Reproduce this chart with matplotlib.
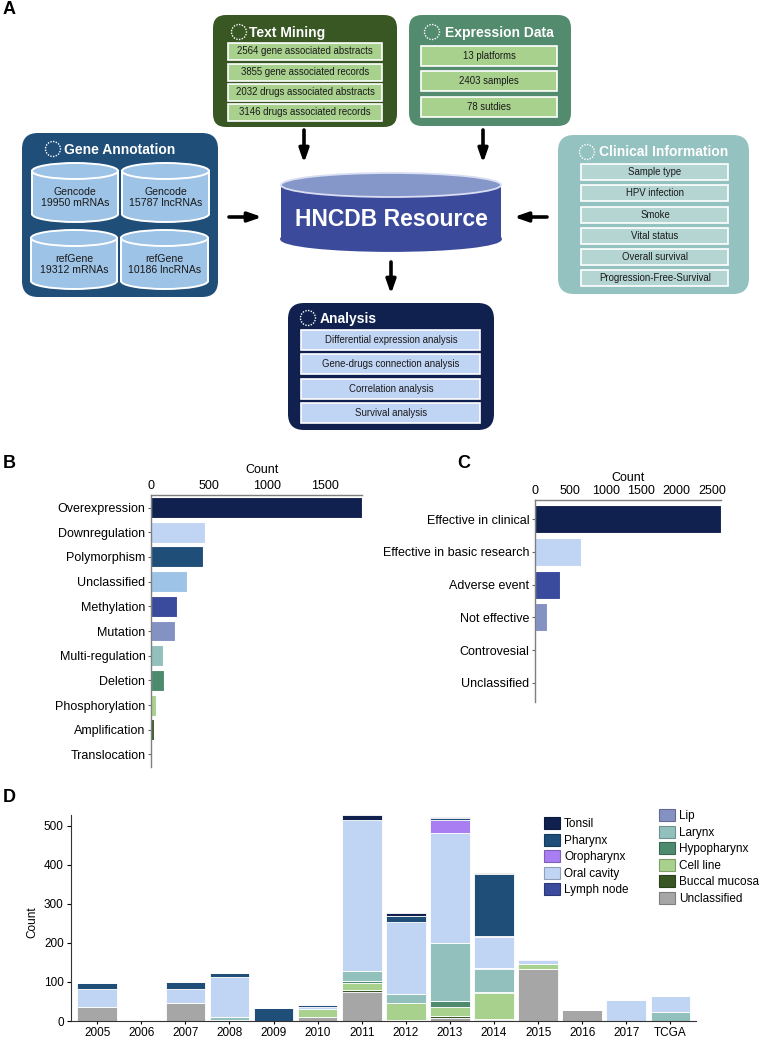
import numpy as np
import matplotlib
matplotlib.use("Agg")
import matplotlib.pyplot as plt
from matplotlib import font_manager
from matplotlib.patches import FancyBboxPatch, Rectangle, Ellipse, Circle, Patch

plt.rcParams['font.family'] = ['Liberation Sans', 'DejaVu Sans']

###############################################################################
# data
###############################################################################
text_mining_rows = ["2564 gene associated abstracts", "3855 gene associated records",
                    "2032 drugs associated abstracts", "3146 drugs associated records"]
expression_rows = ["13 platforms", "2403 samples", "78 sutdies"]
annotation_cylinders = ["Gencode\n19950 mRNAs", "Gencode\n15787 lncRNAs",
                        "refGene\n19312 mRNAs", "refGene\n10186 lncRNAs"]
clinical_rows = ["Sample type", "HPV infection", "Smoke", "Vital status",
                 "Overall survival", "Progression-Free-Survival"]
analysis_rows = ["Differential expression analysis", "Gene-drugs connection analysis",
                 "Correlation analysis", "Survival analysis"]

mechanism_labels = ["Overexpression", "Downregulation", "Polymorphism", "Unclassified",
                    "Methylation", "Mutation", "Multi-regulation", "Deletion",
                    "Phosphorylation", "Amplification", "Translocation"]
mechanism_counts = [1820, 466, 451, 307, 222, 205, 106, 108, 43, 26, 12]

drug_labels = ["Effective in clinical", "Effective in basic research", "Adverse event",
               "Not effective", "Controvesial", "Unclassified"]
drug_counts = [2630, 650, 353, 165, 20, 5]

years = ["2005", "2006", "2007", "2008", "2009", "2010", "2011", "2012", "2013",
         "2014", "2015", "2016", "2017", "TCGA"]
unclassified = [36, 0, 47, 0, 0, 10, 73, 0, 8, 3, 133, 28, 0, 0]
buccal_mucosa = [0, 0, 0, 0, 0, 0, 6, 2, 4, 3, 0, 0, 0, 0]
cell_line = [0, 2, 0, 3, 0, 20, 19, 43, 24, 66, 13, 0, 0, 0]
hypopharynx = [0, 0, 0, 0, 0, 0, 5, 0, 14, 2, 0, 0, 0, 0]
larynx = [0, 0, 0, 6, 0, 0, 25, 23, 150, 60, 0, 0, 1, 22]
lip = [0, 0, 0, 0, 0, 0, 0, 0, 0, 2, 0, 0, 0, 0]
lymph_node = [0, 0, 0, 0, 0, 0, 0, 0, 0, 0, 0, 0, 0, 0]
oral_cavity = [46, 0, 34, 104, 0, 7, 386, 186, 282, 79, 10, 0, 52, 43]
oropharynx = [0, 0, 0, 0, 0, 0, 0, 0, 32, 2, 2, 0, 0, 0]
pharynx = [14, 0, 20, 9, 32, 4, 0, 15, 6, 158, 0, 0, 2, 0]
tonsil = [0, 0, 0, 0, 0, 0, 13, 8, 3, 4, 0, 0, 0, 0]

###############################################################################
# colours
###############################################################################
NAVY = "#10214f"
PALE = "#c0d4f4"
STEEL = "#1f4e79"
SKY = "#9dc3e6"
INDIGO = "#3a4a9c"
LAVENDER = "#8491c3"
TEAL = "#92c0bd"
SEA = "#4e8a6e"
LIME = "#a9d18e"
FOREST = "#375623"
GREY = "#a6a6a6"
PURPLE = "#a87ef2"

mechanism_colors = [NAVY, PALE, STEEL, SKY, INDIGO, LAVENDER, TEAL, SEA, LIME,
                    FOREST, LIME]
drug_colors = [NAVY, PALE, INDIGO, LAVENDER, LIME, FOREST]

# bottom to top
sites = [("Unclassified", unclassified, GREY),
         ("Buccal mucosa", buccal_mucosa, FOREST),
         ("Cell line", cell_line, LIME),
         ("Hypopharynx", hypopharynx, SEA),
         ("Larynx", larynx, TEAL),
         ("Lip", lip, LAVENDER),
         ("Lymph node", lymph_node, INDIGO),
         ("Oral cavity", oral_cavity, PALE),
         ("Oropharynx", oropharynx, PURPLE),
         ("Pharynx", pharynx, STEEL),
         ("Tonsil", tonsil, NAVY)]

W, H = 765, 1039
FS = 9
FS_D = 8.5

# the diagram uses a narrow face when one is installed
installed = {f.name for f in font_manager.fontManager.ttflist}
if "Liberation Sans Narrow" in installed:
    DIAGRAM_FONT = ["Liberation Sans Narrow", "DejaVu Sans"]
    SCALE = 1.2
else:
    DIAGRAM_FONT = ["Liberation Sans", "DejaVu Sans"]
    SCALE = 1.0


def darker(color, f=0.75):
    c = np.array(matplotlib.colors.to_rgb(color))
    return tuple(c * f)


###############################################################################
# panel A helpers (pixel coordinates)
###############################################################################
def rounded_box(ax, x0, y0, x1, y1, color, r=13):
    ax.add_patch(FancyBboxPatch((x0, y0), x1 - x0, y1 - y0,
                                boxstyle="round,pad=0,rounding_size=%d" % r,
                                fc=color, ec=color, lw=0))


def box_title(ax, xc, xt, y, text):
    ax.add_patch(Circle((xc, y), 7.5, fill=False, ec="white", lw=1,
                        ls=(0, (1, 1))))
    ax.text(xt, y + 0.5, text, ha="left", va="center", color="white",
            fontsize=10 * SCALE, weight="bold", family=DIAGRAM_FONT)


def row_box(ax, xc, yc, w, h, color, text):
    ax.add_patch(Rectangle((xc - w / 2, yc - h / 2), w, h, fc=color,
                           ec="white", lw=1.2))
    ax.text(xc, yc, text, ha="center", va="center", fontsize=6.9 * SCALE,
            color="#1a1a1a", family=DIAGRAM_FONT)


def cylinder(ax, x0, x1, ytop, ybot, eh, body, top, edge, lw, side=True):
    w = x1 - x0
    xc = (x0 + x1) / 2.
    yt = ytop + eh / 2.
    yb = ybot - eh / 2.
    ax.add_patch(Ellipse((xc, yb), w, eh, fc=body,
                         ec=edge if side else body, lw=lw))
    ax.add_patch(Rectangle((x0, yt), w, yb - yt, fc=body, ec="none"))
    if side:
        ax.plot([x0, x0], [yt, yb], color=edge, lw=lw)
        ax.plot([x1, x1], [yt, yb], color=edge, lw=lw)
    ax.add_patch(Ellipse((xc, yt), w, eh, fc=top, ec=edge, lw=lw))


def arrow(ax, start, end):
    ax.annotate("", xy=end, xytext=start,
                arrowprops=dict(arrowstyle="-|>,head_length=0.8,head_width=0.28",
                                color="black", lw=2.6, shrinkA=0, shrinkB=0))


def draw_panel_a(ax):
    # text mining
    rounded_box(ax, 213, 15, 397, 127, "#385723")
    box_title(ax, 239, 249, 32, "Text Mining")
    for yc, s in zip([51, 72, 92, 112], text_mining_rows):
        row_box(ax, 305, yc, 154, 17, LIME, s)

    # expression data
    rounded_box(ax, 409, 15, 571, 126, "#538b6e")
    box_title(ax, 432, 445, 32, "Expression Data")
    for yc, s in zip([56, 81, 107], expression_rows):
        row_box(ax, 489, yc, 136, 20, LIME, s)

    # gene annotation
    rounded_box(ax, 22, 133, 218, 297, STEEL, r=16)
    box_title(ax, 53, 64, 149, "Gene Annotation")
    cyl_pos = [(32, 118, 163, 222), (122, 209, 163, 222),
               (31, 117, 230, 289), (121, 208, 230, 289)]
    for (x0, x1, y0, y1), s in zip(cyl_pos, annotation_cylinders):
        cylinder(ax, x0, x1, y0, y1, 16, SKY, SKY, "white", 1.4)
        ax.text((x0 + x1) / 2., (y0 + y1) / 2. + 5, s, ha="center",
                va="center", fontsize=7.6 * SCALE, color="#1a1a1a",
                linespacing=1.2, family=DIAGRAM_FONT)

    # clinical information
    rounded_box(ax, 558, 135, 749, 294, "#93c2c0", r=16)
    box_title(ax, 587, 599, 152, "Clinical Information")
    for yc, s in zip([172, 193, 215, 236, 257, 278], clinical_rows):
        row_box(ax, 655, yc, 147, 16, "#b5d5d3", s)

    # analysis
    rounded_box(ax, 288, 303, 494, 430, NAVY, r=16)
    box_title(ax, 308, 320, 318, "Analysis")
    for yc, s in zip([340, 364, 389, 413], analysis_rows):
        row_box(ax, 391, yc, 179, 20, PALE, s)

    # central resource
    cylinder(ax, 281, 501, 173, 251, 24, "#3b4a9b", "#8596c9", "#d9def2",
             1.3, side=False)
    ax.text(391, 219, "HNCDB Resource", ha="center", va="center",
            color="white", fontsize=16.5 * SCALE, weight="bold",
            family=DIAGRAM_FONT)

    arrow(ax, (304, 130), (304, 163))
    arrow(ax, (483, 130), (483, 163))
    arrow(ax, (229, 217), (262, 217))
    arrow(ax, (547, 217), (514, 217))
    arrow(ax, (391, 262), (391, 294))


###############################################################################
# chart helpers
###############################################################################
def px_axes(fig, left, top, right, bottom):
    return fig.add_axes([left / W, 1 - bottom / H, (right - left) / W,
                         (bottom - top) / H])


def horizontal_bars(ax, labels, counts, colors, xmax, ticks, margin):
    y = np.arange(len(labels))
    ax.barh(y, counts, height=0.85, color=colors, edgecolor="white", lw=0.8)
    ax.set_ylim(len(labels) - 1 + margin, -margin)
    ax.set_xlim(0, xmax)
    ax.set_yticks(y)
    ax.set_yticklabels(labels, fontsize=FS)
    ax.xaxis.tick_top()
    ax.set_xticks(ticks)
    ax.set_xticklabels([str(t) for t in ticks], fontsize=FS)
    ax.tick_params(axis="x", length=0, pad=2)
    ax.tick_params(axis="y", length=2.5, pad=1.5, color="#666666")
    for side in ["right", "bottom"]:
        ax.spines[side].set_visible(False)
    for side in ["top", "left"]:
        ax.spines[side].set_color("#7f7f7f")
        ax.spines[side].set_linewidth(1)


def main():
    fig = plt.figure(figsize=(W / 100., H / 100.), dpi=100)

    # A
    axA = fig.add_axes([0, 1 - 440. / H, 1, 440. / H])
    axA.set_xlim(0, W)
    axA.set_ylim(440, 0)
    axA.axis("off")
    draw_panel_a(axA)

    # B
    axB = px_axes(fig, 151, 495, 362, 767)
    horizontal_bars(axB, mechanism_labels, mechanism_counts, mechanism_colors,
                    1820, [0, 500, 1000, 1500], 0.51)
    fig.text(262 / W, 1 - 470 / H, "Count", ha="center", va="center", fontsize=FS)

    # C
    axC = px_axes(fig, 535, 500, 721, 702)
    horizontal_bars(axC, drug_labels, drug_counts, drug_colors, 2630,
                    [0, 500, 1000, 1500, 2000, 2500], 0.58)
    fig.text(628 / W, 1 - 478 / H, "Count", ha="center", va="center", fontsize=FS)

    # D
    axD = px_axes(fig, 70.7, 815, 696, 1021)
    x = np.arange(len(years))
    bottom = np.zeros(len(years))
    for name, values, color in sites:
        axD.bar(x, values, width=0.9, bottom=bottom, color=color,
                edgecolor="white", lw=0.6)
        bottom += np.array(values)
    axD.set_xlim(-0.6, 13.58)
    axD.set_ylim(0, 527)
    axD.set_xticks(x)
    axD.set_xticklabels(years, fontsize=FS_D)
    axD.set_yticks([0, 100, 200, 300, 400, 500])
    axD.tick_params(axis="y", labelsize=FS_D, length=3, pad=2)
    axD.tick_params(axis="x", length=2, pad=2)
    for side in ["right", "top"]:
        axD.spines[side].set_visible(False)
    for side in ["left", "bottom"]:
        axD.spines[side].set_color("#333333")
    fig.text(32 / W, 1 - 922 / H, "Count", rotation=90, ha="center",
             va="center", fontsize=FS_D)

    lookup = {name: color for name, values, color in sites}
    first = ["Tonsil", "Pharynx", "Oropharynx", "Oral cavity", "Lymph node"]
    second = ["Lip", "Larynx", "Hypopharynx", "Cell line", "Buccal mucosa",
              "Unclassified"]
    for names, anchor in [(first, (544, 817)), (second, (659, 809))]:
        handles = [Patch(fc=lookup[n], ec=darker(lookup[n]), lw=0.8, label=n)
                   for n in names]
        fig.legend(handles=handles, loc="upper left",
                   bbox_to_anchor=(anchor[0] / W, 1 - anchor[1] / H),
                   frameon=False, fontsize=FS_D, handlelength=1.36,
                   handleheight=1.2, labelspacing=0.3, handletextpad=0.35,
                   borderpad=0, borderaxespad=0)

    # panel letters
    for letter, (lx, ly) in zip("ABCD", [(9, 10), (9, 463), (464, 463), (9, 797)]):
        fig.text(lx / W, 1 - ly / H, letter, ha="center", va="center",
                 fontsize=13, weight="bold")

    fig.savefig("out.png", dpi=100)


if __name__ == '__main__':
    main()
